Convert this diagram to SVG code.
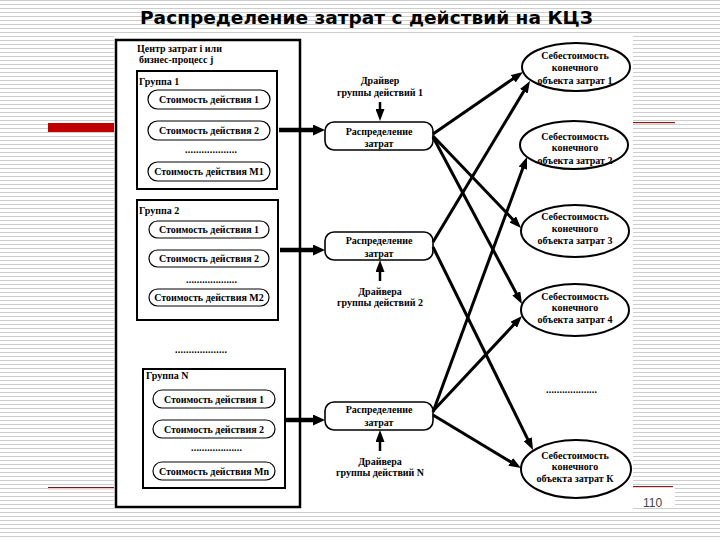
<svg xmlns="http://www.w3.org/2000/svg" width="720" height="540" viewBox="0 0 720 540">
<style>
.t{font-family:"Liberation Serif","Times New Roman",serif;font-weight:bold;font-size:10px;fill:#000}
.c{text-anchor:middle}
.pill{fill:#fff;stroke:#000;stroke-width:1.2}
.grp{fill:#fff;stroke:#000;stroke-width:2}
.box{fill:#fff;stroke:#000;stroke-width:1.6}
.ell{fill:#fff;stroke:#000;stroke-width:2}
.ln{stroke:#000;stroke-width:3;fill:none;marker-end:url(#ah)}
.thick{stroke:#000;stroke-width:4.5;fill:none;marker-end:url(#ahb)}
.drv{stroke:#000;stroke-width:2.5;fill:none;marker-end:url(#ah)}
</style>
<defs>
<pattern id="stripes" width="8" height="4" patternUnits="userSpaceOnUse"><rect x="0" y="0" width="8" height="1" fill="#cdcdcd"/></pattern>
<marker id="ah" markerUnits="userSpaceOnUse" markerWidth="12" markerHeight="9" viewBox="0 0 12 9" refX="4" refY="4.5" orient="auto"><path d="M0,0 L12,4.5 L0,9 z" fill="#000"/></marker>
<marker id="ahb" markerUnits="userSpaceOnUse" markerWidth="12" markerHeight="11" viewBox="0 0 12 11" refX="4" refY="5.5" orient="auto"><path d="M0,0 L12,5.5 L0,11 z" fill="#000"/></marker>
</defs>

<!-- slide background -->
<rect x="0" y="0" width="720" height="540" fill="#fff"/>
<rect x="0" y="0" width="720" height="540" fill="url(#stripes)"/>
<rect x="48" y="123" width="66" height="9" fill="#c00000"/>
<rect x="633" y="122" width="42" height="1.2" fill="#8b1c1c"/>
<rect x="48" y="487" width="66" height="1.2" fill="#6b1f1f"/>
<rect x="48" y="488.2" width="66" height="1.5" fill="#f4d4d4"/>
<rect x="633" y="488" width="42" height="20" fill="#fff"/>
<rect x="633" y="486" width="40" height="1.2" fill="#8b1c1c"/>
<text x="643" y="507" font-family="Liberation Sans, Arial, sans-serif" font-size="12" fill="#444">110</text>
<text x="140" y="24" font-family="DejaVu Sans, Verdana, sans-serif" font-weight="bold" font-size="18" fill="#000" textLength="453" lengthAdjust="spacingAndGlyphs">Распределение затрат с действий на КЦЗ</text>

<!-- diagram image area -->
<rect x="114" y="35" width="519" height="474" fill="#fff"/>

<g id="cost-center">
<rect x="116" y="40" width="184" height="467" fill="none" stroke="#000" stroke-width="2.5"/>
<text class="t" x="137" y="52">Центр затрат i или</text>
<text class="t" x="139" y="63">бизнес-процесс j</text>
<text class="t" x="175" y="353" textLength="52" lengthAdjust="spacing">...................</text>
</g>

<g id="group1">
<rect class="grp" x="137" y="71" width="140" height="118"/>
<text class="t" x="139" y="85">Группа 1</text>
<rect class="pill" x="148" y="90" width="122" height="19" rx="9.5"/>
<text class="t c" x="209" y="103">Стоимость действия 1</text>
<rect class="pill" x="148" y="121" width="122" height="19" rx="9.5"/>
<text class="t c" x="209" y="134">Стоимость действия 2</text>
<text class="t" x="185" y="153" textLength="52" lengthAdjust="spacing">...................</text>
<rect class="pill" x="148" y="162" width="122" height="19" rx="9.5"/>
<text class="t c" x="209" y="175">Стоимость действия М1</text>
</g>

<g id="group2">
<rect class="grp" x="137" y="200" width="141" height="120"/>
<text class="t" x="139" y="214">Группа 2</text>
<rect class="pill" x="149" y="221" width="120" height="17" rx="8.5"/>
<text class="t c" x="209" y="233">Стоимость действия 1</text>
<rect class="pill" x="149" y="250" width="120" height="17" rx="8.5"/>
<text class="t c" x="209" y="262">Стоимость действия 2</text>
<text class="t" x="186" y="283" textLength="51" lengthAdjust="spacing">...................</text>
<rect class="pill" x="149" y="289" width="120" height="17" rx="8.5"/>
<text class="t c" x="209" y="301">Стоимость действия М2</text>
</g>

<g id="groupN">
<rect class="grp" x="143" y="369" width="142" height="119"/>
<text class="t" x="146" y="379">Группа N</text>
<rect class="pill" x="153" y="390" width="122" height="18" rx="9"/>
<text class="t c" x="214" y="402.5">Стоимость действия 1</text>
<rect class="pill" x="153" y="420" width="122" height="18" rx="9"/>
<text class="t c" x="214" y="432.5">Стоимость действия 2</text>
<text class="t" x="191" y="451" textLength="51" lengthAdjust="spacing">...................</text>
<rect class="pill" x="153" y="462" width="122" height="18" rx="9"/>
<text class="t c" x="214" y="474.5">Стоимость действия Mn</text>
</g>

<g id="alloc1">
<rect class="box" x="325" y="122" width="108" height="28" rx="9"/>
<text class="t c" x="379" y="135">Распределение</text>
<text class="t c" x="379" y="146.5">затрат</text>
</g>
<g id="alloc2">
<rect class="box" x="325" y="232" width="108" height="28" rx="9"/>
<text class="t c" x="379" y="244">Распределение</text>
<text class="t c" x="379" y="256.5">затрат</text>
</g>
<g id="allocN">
<rect class="box" x="325" y="402" width="108" height="28" rx="9"/>
<text class="t c" x="379" y="412.5">Распределение</text>
<text class="t c" x="379" y="425.5">затрат</text>
</g>

<g id="driver1">
<text class="t c" x="380" y="84">Драйвер</text>
<text class="t c" x="380" y="96">группы действий 1</text>
</g>
<g id="driver2">
<text class="t c" x="380" y="295">Драйвера</text>
<text class="t c" x="380" y="306">группы действий 2</text>
</g>
<g id="driverN">
<text class="t c" x="380" y="464.5">Драйвера</text>
<text class="t c" x="380" y="475.5">группы действий N</text>
</g>

<g id="object1">
<ellipse class="ell" cx="576" cy="67" rx="54" ry="24"/>
<text class="t c" x="575" y="58.5">Себестоимость</text>
<text class="t c" x="575" y="70.5">конечного</text>
<text class="t c" x="575" y="84">объекта затрат 1</text>
</g>
<g id="object2">
<ellipse class="ell" cx="574" cy="145" rx="54" ry="24"/>
<text class="t c" x="575" y="140">Себестоимость</text>
<text class="t c" x="575" y="151">конечного</text>
<text class="t c" x="575" y="163.5">объекта затрат 2</text>
</g>
<g id="object3">
<ellipse class="ell" cx="575" cy="231" rx="54" ry="26"/>
<text class="t c" x="575" y="220">Себестоимость</text>
<text class="t c" x="575" y="231.5">конечного</text>
<text class="t c" x="575" y="243.5">объекта затрат 3</text>
</g>
<g id="object4">
<ellipse class="ell" cx="575" cy="310" rx="54" ry="26"/>
<text class="t c" x="575" y="299.5">Себестоимость</text>
<text class="t c" x="575" y="310.5">конечного</text>
<text class="t c" x="575" y="322.5">объекта затрат 4</text>
</g>
<text class="t" x="546" y="393" textLength="51" lengthAdjust="spacing">...................</text>
<g id="objectK">
<ellipse class="ell" cx="576" cy="469" rx="55" ry="29"/>
<text class="t c" x="575" y="458.5">Себестоимость</text>
<text class="t c" x="575" y="470">конечного</text>
<text class="t c" x="575" y="481.5">объекта затрат К</text>
</g>

<g id="connectors">
<line class="thick" x1="279" y1="130" x2="317" y2="130"/>
<line class="thick" x1="280" y1="250" x2="317" y2="250"/>
<line class="thick" x1="285" y1="420" x2="317" y2="420"/>
<line class="drv" x1="380" y1="102" x2="380" y2="113"/>
<line class="drv" x1="380" y1="281" x2="380" y2="268"/>
<line class="drv" x1="380" y1="451" x2="380" y2="438"/>
<line class="ln" x1="433" y1="134" x2="516.4" y2="76.5"/>
<line class="ln" x1="433" y1="242" x2="525.9" y2="87.8"/>
<line class="ln" x1="433" y1="412" x2="524.2" y2="164.5"/>
<line class="ln" x1="433" y1="136" x2="515.5" y2="222.2"/>
<line class="ln" x1="433" y1="137" x2="518.2" y2="296.9"/>
<line class="ln" x1="433" y1="411" x2="516.5" y2="321.8"/>
<line class="ln" x1="433" y1="247" x2="529.5" y2="442.8"/>
<line class="ln" x1="433" y1="415" x2="514.1" y2="463.9"/>
</g>
</svg>
